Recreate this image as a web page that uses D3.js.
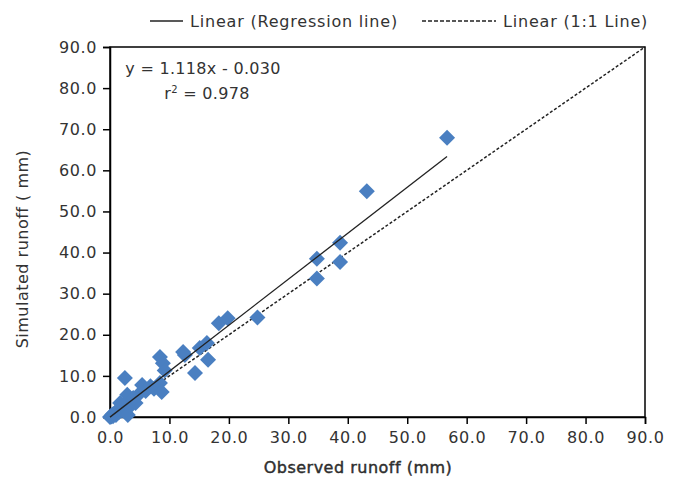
<!DOCTYPE html>
<html><head><meta charset="utf-8">
<script src="https://cdn.jsdelivr.net/npm/d3@7"></script>
<style>body{margin:0;background:#fff}svg{display:block}text{font-family:"DejaVu Sans",sans-serif;fill:#333;letter-spacing:0.8px}</style>
</head><body><svg id="c" width="678" height="485"></svg>
<script>
const observed = [0.0,0.2,0.4,0.5,0.8,1.0,1.2,1.5,1.8,2.0,2.3,2.6,3.0,3.0,3.4,3.8,4.3,4.8,5.4,6.0,6.8,7.4,2.5,2.9,1.7,3.9,8.4,8.7,8.4,8.9,9.2,12.3,12.6,14.3,15.1,16.3,16.5,18.3,19.8,24.8,34.8,34.8,38.7,38.7,43.2,56.7];
const simulated = [0.0,0.1,0.6,0.2,0.9,0.5,1.5,1.2,2.3,1.6,2.8,2.0,3.5,0.5,2.6,4.2,3.4,5.5,7.8,6.3,7.5,6.9,9.5,5.4,3.4,4.6,8.3,6.1,14.6,13.1,11.3,15.8,15.1,10.7,16.8,18.0,13.9,22.8,24.0,24.2,38.5,33.7,42.4,37.7,54.9,67.9];
const xTicks = [0,10,20,30,40,50,60,70,80,90];
const yTicks = [0,10,20,30,40,50,60,70,80,90];
const slope = 1.118, intercept = -0.030;
const equationText = "y = 1.118x - 0.030";
const r2Label = "0.978";
const legendLabels = ["Linear (Regression line)", "Linear (1:1 Line)"];
const xTitle = "Observed runoff (mm)";
const yTitle = "Simulated  runoff ( mm)";

const svg = d3.select("#c");
const L = 110, R = 645, T = 47, B = 417;
const x = d3.scaleLinear().domain([0, 90]).range([L, R]);
const y = d3.scaleLinear().domain([0, 90]).range([B, T]);

svg.append("rect").attr("x", L).attr("y", T).attr("width", R - L).attr("height", B - T)
  .attr("fill", "none").attr("stroke", "#000").attr("stroke-width", 1.5);

const xa = svg.append("g").attr("transform", `translate(0,${B})`)
  .call(d3.axisBottom(x).tickValues(xTicks).tickFormat(d3.format(".1f")).tickSizeOuter(0).tickSize(7).tickPadding(8));
const ya = svg.append("g").attr("transform", `translate(${L},0)`)
  .call(d3.axisLeft(y).tickValues(yTicks).tickFormat(d3.format(".1f")).tickSizeOuter(0).tickSize(7).tickPadding(6));
[xa, ya].forEach(a => {
  a.select(".domain").attr("stroke", "#000").attr("stroke-width", 1.5);
  a.selectAll(".tick line").attr("stroke", "#000").attr("stroke-width", 1.5);
  a.selectAll(".tick text").style("font-size", "16px").style("font-family", "DejaVu Sans").style("letter-spacing", "0.6px").attr("fill", "#333");
});

svg.append("line").attr("x1", x(0)).attr("y1", y(0)).attr("x2", x(90)).attr("y2", y(90))
  .attr("stroke", "#222").attr("stroke-width", 1.5).attr("stroke-dasharray", "3,2");

const diamond = "M0,-8L8,0L0,8L-8,0Z";
svg.append("g").selectAll("path").data(observed.map((o, i) => [o, simulated[i]]))
  .join("path").attr("d", diamond)
  .attr("transform", d => `translate(${x(d[0])},${y(d[1])})`)
  .attr("fill", "#4a7fc1");

const xMax = d3.max(observed);
svg.append("line").attr("x1", x(0)).attr("y1", y(intercept)).attr("x2", x(xMax)).attr("y2", y(slope * xMax + intercept))
  .attr("stroke", "#222").attr("stroke-width", 1.3);

svg.append("text").attr("x", 203).attr("y", 74).attr("text-anchor", "middle").style("font-size", "16px").style("letter-spacing", "0.3px").text(equationText);
const r = svg.append("text").attr("x", 207).attr("y", 99).attr("text-anchor", "middle").style("font-size", "16px").style("letter-spacing", "0.3px");
r.append("tspan").text("r");
r.append("tspan").attr("dy", -6).style("font-size", "10px").text("2");
r.append("tspan").attr("dy", 6).text(" = " + r2Label);

const lg = svg.append("g");
lg.append("line").attr("x1", 150).attr("x2", 183).attr("y1", 21).attr("y2", 21).attr("stroke", "#222").attr("stroke-width", 1.5);
lg.append("text").attr("x", 190).attr("y", 27).style("font-size", "16px").text(legendLabels[0]);
lg.append("line").attr("x1", 422).attr("x2", 496).attr("y1", 21).attr("y2", 21).attr("stroke", "#222").attr("stroke-width", 1.5).attr("stroke-dasharray", "4,2");
lg.append("text").attr("x", 503).attr("y", 27).style("font-size", "16px").text(legendLabels[1]);

svg.append("text").attr("x", 358).attr("y", 473).attr("text-anchor", "middle").style("font-size", "16px").style("letter-spacing", "0.5px").style("stroke", "#222").style("stroke-width", "0.4px").attr("fill", "#222").text(xTitle);
svg.append("text").attr("transform", "translate(28,249) rotate(-90)").attr("text-anchor", "middle").style("font-size", "16px").style("letter-spacing", "0.5px").attr("fill", "#222").text(yTitle);
</script></body></html>
